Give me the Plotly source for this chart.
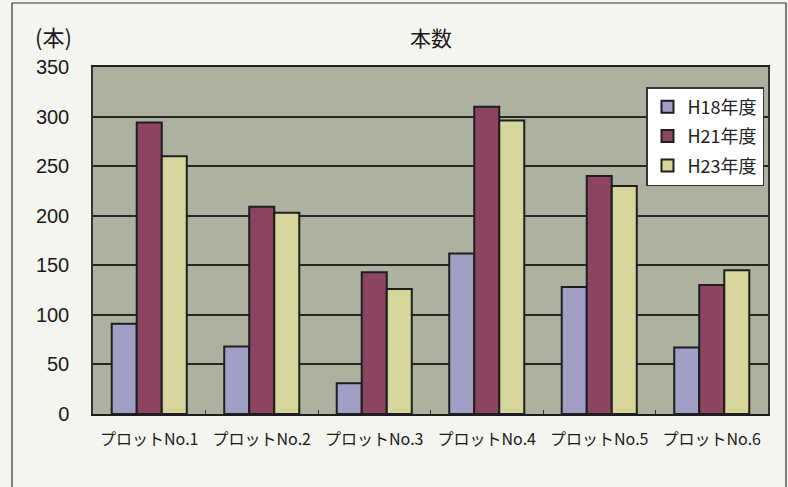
import plotly.graph_objects as go

# Tree counts per survey plot and survey year
plots = ["プロットNo.1", "プロットNo.2", "プロットNo.3", "プロットNo.4", "プロットNo.5", "プロットNo.6"]
h18 = [91, 68, 31, 162, 128, 67]
h21 = [294, 209, 143, 310, 240, 130]
h23 = [260, 203, 126, 296, 230, 145]
series_names = ["H18年度", "H21年度", "H23年度"]
y_ticks = [0, 50, 100, 150, 200, 250, 300, 350]

colors = ["#a19fc6", "#8c4460", "#d6d69c"]

W, H = 788, 487
L, R, T, B = 93, 20, 67, 73
pw, ph = W - L - R, H - T - B

fig = go.Figure()
for i, (name, vals) in enumerate(zip(series_names, [h18, h21, h23])):
    fig.add_trace(go.Bar(
        x=plots, y=vals, name=name,
        marker=dict(color=colors[i], line=dict(color="#1e1e1e", width=2)),
        legendgroup=name,
    ))

fig.update_layout(
    width=W, height=H,
    margin=dict(l=L, r=R, t=T, b=B, autoexpand=False),
    paper_bgcolor="#f5f5ef",
    plot_bgcolor="#adb19f",
    barmode="group",
    bargap=0.333,
    bargroupgap=0,
    font=dict(family="Liberation Sans, Arial, sans-serif", color="#1a1a1a"),
    showlegend=True,
    legend=dict(
        x=(764 - L) / pw, xanchor="right", y=(414 - 87) / ph, yanchor="top",
        bgcolor="#ffffff", bordercolor="#333333", borderwidth=1.5,
        font=dict(family="Noto Sans CJK JP", size=18, color="#222"),
        traceorder="grouped", tracegroupgap=3,
        itemwidth=30,
    ),
    xaxis=dict(
        showline=True, linecolor="#1e1e1e", linewidth=2, mirror=True,
        ticks="inside", tickson="boundaries", ticklen=4, tickcolor="#333",
        tickangle=0, automargin=False, ticklabelstandoff=10,
        tickfont=dict(family="Noto Sans CJK JP", size=16, color="#1a1a1a"),
        showgrid=False,
    ),
    yaxis=dict(
        range=[0, 350], tickvals=y_ticks,
        showline=True, linecolor="#333333", linewidth=1.5, mirror=True,
        gridcolor="#262626", gridwidth=1.5,
        tickfont=dict(family="Liberation Sans, Arial", size=20, color="#1a1a1a"),
        ticks="", ticklabelstandoff=18, automargin=False,
        zeroline=False,
    ),
    annotations=[
        dict(text="本数", xref="paper", yref="paper", x=0.5, y=1 + 30 / ph,
             xanchor="center", yanchor="middle", showarrow=False,
             font=dict(family="Noto Sans CJK JP", size=21, color="#1a1a1a")),
        dict(text="(本)", xref="paper", yref="paper", x=(53 - L) / pw, y=1 + 31 / ph,
             xanchor="center", yanchor="middle", showarrow=False,
             font=dict(family="Noto Sans CJK JP", size=22, color="#1a1a1a")),
    ],
    shapes=[
        dict(type="rect", xref="paper", yref="paper",
             x0=(12 - L) / pw, x1=(786 - L) / pw,
             y0=-(B + 10) / ph, y1=1 + (T - 3) / ph,
             line=dict(color="#333333", width=1.2), layer="below"),
    ],
)

fig.write_html("out.html")
